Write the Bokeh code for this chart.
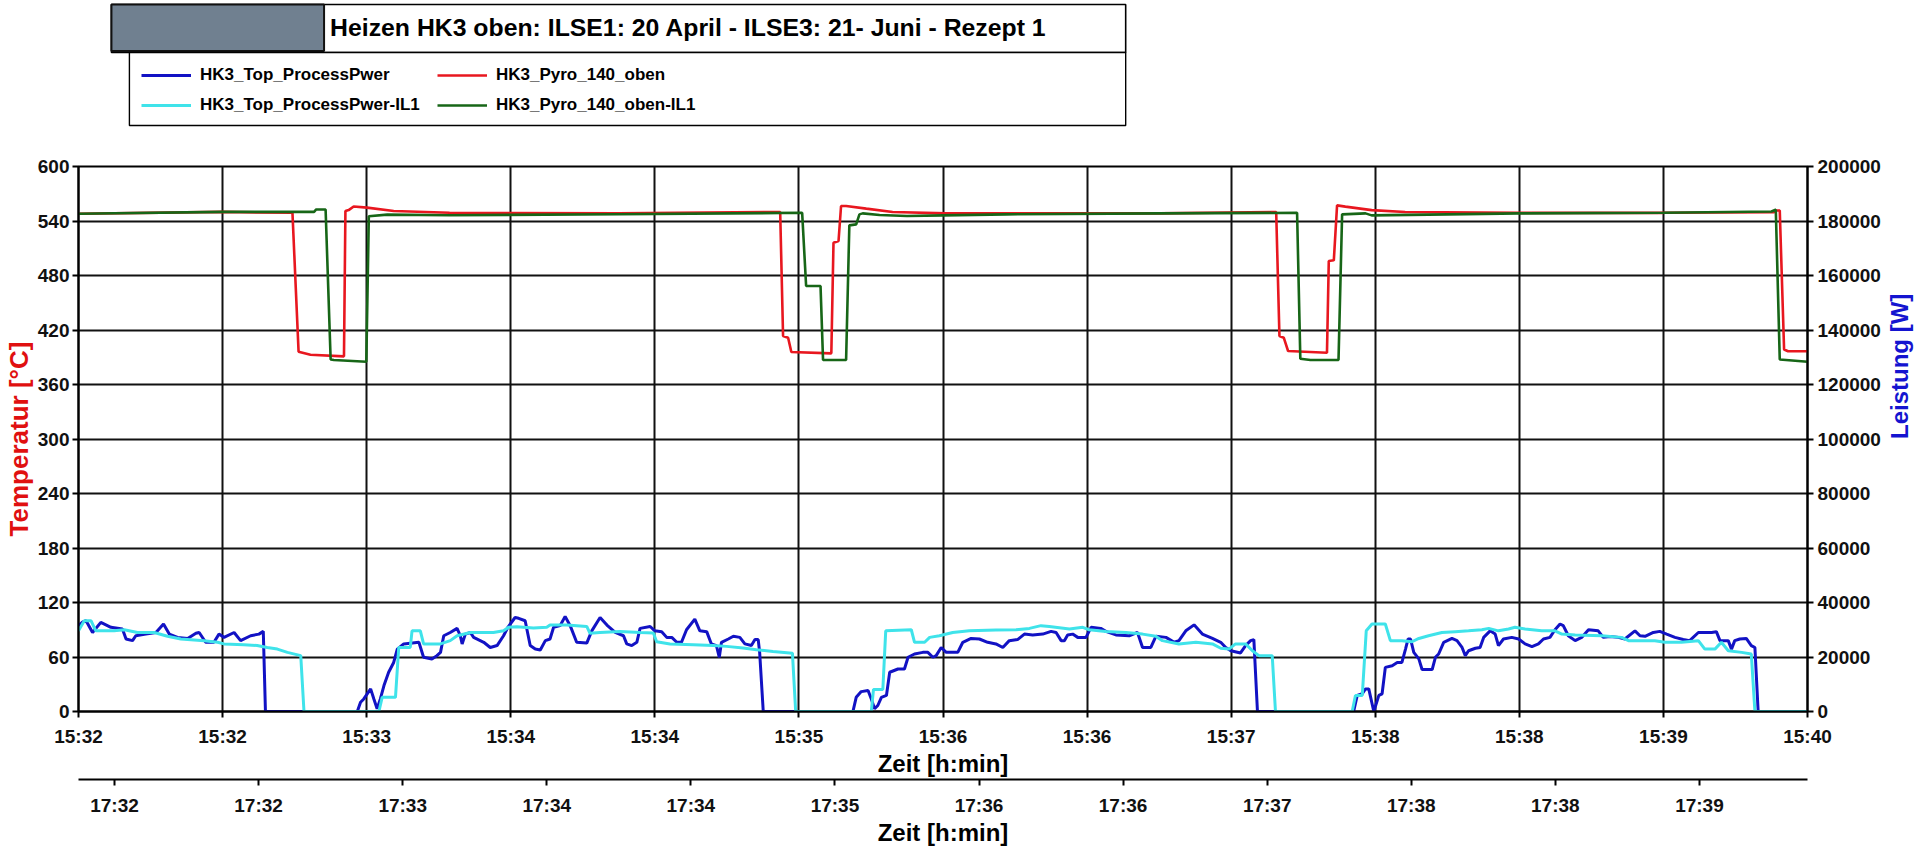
import math
from bokeh.plotting import figure
from bokeh.models import (Range1d, LinearAxis, FixedTicker, Legend, LegendItem,
                          NumeralTickFormatter, Label)
from bokeh.layouts import column
from bokeh.embed import file_html
from bokeh.resources import INLINE

FONT = "Liberation Sans"

# ---------------- texts ----------------
title_text = "Heizen HK3 oben:  ILSE1: 20 April - ILSE3: 21- Juni - Rezept 1"
series_names = ["HK3_Top_ProcessPwer", "HK3_Top_ProcessPwer-IL1",
                "HK3_Pyro_140_oben", "HK3_Pyro_140_oben-IL1"]
x_axis_title = "Zeit [h:min]"
y_left_title = "Temperatur [°C]"
y_right_title = "Leistung [W]"

# ---------------- ticks (x in seconds after 15:32:00) ----------------
x_ticks = [0, 40, 80, 120, 160, 200, 240, 280, 320, 360, 400, 440, 480]
x_tick_labels = ["15:32", "15:32", "15:33", "15:34", "15:34", "15:35", "15:36",
                 "15:36", "15:37", "15:38", "15:38", "15:39", "15:40"]
x2_ticks = [10, 50, 90, 130, 170, 210, 250, 290, 330, 370, 410, 450]
x2_tick_labels = ["17:32", "17:32", "17:33", "17:34", "17:34", "17:35",
                  "17:36", "17:36", "17:37", "17:38", "17:38", "17:39"]
temp_ticks = [0, 60, 120, 180, 240, 300, 360, 420, 480, 540, 600]
power_ticks = [0, 20000, 40000, 60000, 80000, 100000, 120000, 140000,
               160000, 180000, 200000]

# ---------------- series ----------------
# HK3_Top_ProcessPwer  [W]
pwr_t = [0, 1.2, 2.1, 3.9, 6.2, 9.0, 12.2, 13.2, 15.0, 15.9, 18.7, 21.5, 23.6, 25.2, 27.5,
         30.3, 32.6, 33.5, 35.3, 37.6, 39.0, 40.4, 43.2, 45.0, 47.8, 50.1, 51.3, 51.9,
         77.4, 78.3, 79.2, 81.1, 82.0, 82.9, 83.8, 84.8, 86.1, 87.5, 88.5, 90.3, 94.5,
         95.8, 98.1, 99.5, 100.5, 101.4, 103.2, 105.1, 106.0, 106.5, 107.4, 108.8, 109.7,
         112.5, 114.3, 116.2, 118.0, 119.2, 121.2, 122.2, 124.0, 125.4, 126.8, 128.2,
         129.6, 130.9, 131.9, 133.7, 135.1, 136.5, 138.3, 141.1, 142.5, 144.8, 146.7,
         149.0, 151.3, 152.2, 153.6, 155.0, 155.9, 158.7, 160.0, 161.9, 163.3, 164.7,
         166.1, 167.4, 168.8, 171.1, 172.5, 174.4, 175.7, 177.1, 177.9, 178.5, 180.4,
         181.8, 183.6, 185.0, 186.8, 187.8, 188.7, 189.1, 190.1, 215.0, 215.9, 217.3,
         219.2, 220.1, 221.0, 221.9, 222.9, 224.3, 225.2, 227.5, 229.3, 230.3, 232.1,
         234.4, 235.8, 237.2, 238.1, 239.5, 240.9, 244.1, 245.5, 247.8, 250.1, 252.4,
         254.7, 256.6, 258.4, 260.7, 262.6, 264.9, 267.7, 270.0, 271.4, 272.8, 273.7,
         274.6, 276.0, 277.4, 279.7, 281.1, 283.8, 285.2, 288.0, 291.7, 294.0, 295.4,
         297.7, 299.1, 301.9, 304.2, 305.5, 307.4, 309.7, 312.0, 314.8, 317.1, 318.5,
         319.9, 322.6, 324.0, 325.4, 326.3, 327.3, 354.0, 355.0, 356.4, 357.3, 358.2,
         359.6, 361.0, 361.9, 362.8, 364.7, 366.1, 367.4, 368.4, 369.1, 369.8, 370.7,
         372.1, 373.0, 375.8, 376.7, 377.6, 379.0, 381.3, 382.7, 384.1, 385.0, 385.9,
         387.8, 389.1, 390.1, 391.9, 393.3, 394.2, 395.6, 397.9, 399.8, 401.6, 403.5,
         405.3, 406.7, 408.5, 409.9, 411.3, 412.2, 413.6, 415.5, 417.3, 419.2, 421.9,
         423.3, 425.2, 427.5, 429.3, 432.1, 433.5, 434.9, 437.2, 439.0, 440.9, 443.2,
         445.5, 447.3, 449.7, 453.4, 454.7, 455.7, 458.0, 458.9, 459.8, 461.2, 463.0,
         464.4, 465.4, 466.3, 480.0]
pwr_w = [31500, 32900, 33300, 29000, 32700, 30900, 30300, 26600, 26000, 27800, 28400, 29000,
         32100, 28400, 27200, 26800, 28700, 29000, 25400, 25400, 28400, 27200, 29000, 26000,
         27800, 28400, 29400, 0,
         0, 3400, 4600, 8300, 4600, 1000, 4600, 9500, 14400, 18000, 22900, 24800, 25400,
         19900, 19300, 20500, 21700, 27800, 29000, 30500, 27800, 24800, 28400, 29000, 27200,
         25400, 23500, 24200, 27800, 30900, 34500, 34200, 33300, 24200, 22900, 22600,
         26000, 26600, 30900, 31500, 34900, 31500, 25400, 25100, 29600, 34500, 31700,
         29000, 27800, 24800, 24200, 25400, 30500, 31200, 29600, 29300, 27200, 27200,
         25400, 25400, 30000, 33900, 29600, 29300, 24800, 24200, 19900, 25400, 26600,
         27600, 27200, 24800, 24200, 26400, 26400, 21700, 0, 0, 5200, 7300,
         7700, 4600, 1000, 2200, 5200, 5900, 14400, 15600, 15600, 19900, 21100,
         21700, 21700, 19900, 20500, 23500, 21700, 21700, 25400, 26800, 26600, 25400,
         24800, 23500, 26000, 26400, 28400, 28100, 28400, 29400, 29000, 26000, 26000,
         28100, 28400, 27200, 27200, 30900, 30500, 29400, 28100, 27800, 29000, 23500,
         23500, 27600, 27200, 25400, 26000, 29600, 31800, 28400, 26800, 25400, 23500,
         22300, 21500, 24200, 26000, 26400, 0, 0, 5900, 6500, 8300, 8300,
         0, 5900, 6500, 16200, 16800, 18000, 18000, 22900, 26600, 26600, 21700,
         19300, 15400, 15400, 19900, 21100, 25400, 26800, 26000, 23500, 20500, 22300,
         23200, 23500, 27200, 29600, 28400, 24200, 26600, 27200, 26600, 24800, 23800,
         24800, 26600, 27200, 30000, 32100, 31500, 27800, 26000, 27200, 30000, 29600,
         27200, 27500, 27200, 26600, 29600, 27800, 27600, 29000, 29400, 28400, 27200,
         26400, 26000, 29000, 29000, 29300, 26000, 26000, 22900, 26000, 26600, 26800,
         24200, 23500, 0, 0]

# HK3_Top_ProcessPwer-IL1  [W]
pwr_il1_t = [0, 1.6, 3.5, 4.8, 9.9, 12.7, 16.4, 21.0, 24.7, 28.4, 34.9, 38.6, 40.4, 45.9,
             49.6, 52.4, 55.2, 58.0, 61.7, 62.6, 83.4, 84.3, 88.0, 88.9, 92.1, 92.6, 94.9,
             95.8, 100.5, 103.2, 105.1, 108.8, 115.2, 118.0, 119.4, 121.7, 126.3, 130.0,
             130.9, 135.6, 141.1, 142.0, 144.8, 150.3, 155.9, 159.6, 160.5, 164.2, 170.7,
             176.2, 179.9, 184.5, 188.2, 192.8, 198.2, 199.1, 220.1, 220.7, 223.3, 224.1,
             231.2, 232.1, 234.9, 236.3, 239.0, 242.7, 247.3, 254.7, 260.3, 264.0, 267.2,
             269.5, 275.1, 278.8, 280.6, 285.2, 290.8, 295.4, 299.1, 300.9, 305.5, 310.2,
             314.8, 317.1, 319.4, 321.2, 324.0, 325.9, 327.7, 331.4, 332.3, 353.6, 354.5,
             356.4, 357.5, 359.1, 362.8, 364.2, 367.4, 370.2, 372.1, 374.8, 378.5, 382.2,
             385.9, 389.6, 391.5, 394.2, 397.0, 398.8, 401.6, 406.2, 409.9, 411.8, 415.5,
             422.9, 428.4, 430.3, 437.6, 440.4, 445.0, 449.7, 451.5, 454.3, 456.1, 458.0,
             461.7, 464.4, 465.4, 480.0]
pwr_il1_w = [29600, 33300, 33300, 29600, 29600, 30000, 29000, 29000, 27600, 26600, 26000,
             25400, 24800, 24500, 24200, 23500, 22900, 21700, 20500, 0, 0, 5200, 5200,
             23500, 23500, 29600, 29600, 24800, 24800, 26000, 27800, 29000, 29000, 29600,
             30900, 31100, 30600, 30900, 31700, 31700, 31200, 28700, 29000, 29400, 29000,
             28800, 25600, 24800, 24500, 24200, 23900, 23300, 22700, 22000, 21400, 0, 0,
             8100, 8100, 29600, 30000, 25400, 25400, 27200, 27800, 29000, 29600, 29900,
             30000, 30500, 31500, 31200, 30300, 30900, 30000, 29400, 29000, 28400, 27600,
             26000, 24800, 25400, 24800, 23200, 22900, 24800, 24800, 22300, 20500, 20500,
             0, 0, 5900, 5900, 29600, 32100, 32100, 26000, 26000, 25600, 26800, 27800,
             29000, 29300, 29600, 30000, 30500, 29600, 30300, 30900, 30300, 29600, 29600,
             28400, 28100, 27800, 27200, 26000, 26000, 25400, 25400, 26000, 22900, 22900,
             25400, 22300, 21700, 21100, 0, 0]

# HK3_Pyro_140_oben  [°C]
pyro_t = [0, 40, 59.4, 61.1, 64.4, 73.7, 74.1, 75.0, 76.4, 80.1, 87.5, 103.0, 150.0, 194.8,
          195.6, 197.0, 197.9, 209.0, 209.6, 211.0, 211.7, 213.1, 218.7, 226.0, 241.0,
          300.0, 332.5, 333.4, 334.6, 335.8, 346.6, 347.1, 348.5, 349.4, 351.7, 359.0,
          368.3, 400.0, 440.0, 470.7, 471.4, 472.3, 473.5, 474.6, 480.0]
pyro_c = [548, 550, 549, 396, 392.7, 391, 551, 552, 556, 554.7, 551, 549, 548.5, 549.9,
          413.4, 411.5, 395.8, 394.3, 516, 518, 556.5, 556.5, 553.6, 549.9, 548.4,
          548.4, 549.9, 413.4, 411.5, 396.9, 395, 496, 496.7, 557.2, 555.8, 552,
          549.9, 549, 549, 549.7, 551.5, 551.5, 398.5, 396.6, 396.6]

# HK3_Pyro_140_oben-IL1  [°C]
pyro_il1_t = [0, 40, 65.4, 66.0, 68.6, 70.0, 70.9, 79.9, 80.6, 85.7, 103.0, 150.0, 200.9,
              202.0, 206.0, 206.7, 213.1, 214.0, 215.9, 216.8, 217.7, 222.4, 230.0, 240.0,
              257.5, 300.0, 338.3, 339.2, 342.0, 349.8, 350.8, 357.3, 359.0, 380.0, 400.0,
              440.0, 470.0, 471.0, 471.2, 472.3, 480.0]
pyro_il1_c = [548, 550, 550, 552.7, 552.7, 387.5, 387, 385, 545.3, 547, 546.3, 547.5, 549,
              468.4, 468.4, 387, 387, 535.2, 536.3, 547.3, 548.4, 546.6, 545.5, 546.2,
              547.3, 548.4, 549, 388.4, 387, 387, 547.3, 548.4, 546.2, 547.3, 548.4,
              549, 550.4, 552.2, 552.2, 387.5, 385]

# ---------------- styles ----------------
C_PWR = "#1212c4"
C_PWR_IL1 = "#3fe3ea"
C_PYRO = "#e8171f"
C_PYRO_IL1 = "#176617"
W_PWR = 3
W_TEMP = 2.6

W_TOTAL = 1929
H_HEAD = 140
H_MAIN = 708
B_LEFT, B_RIGHT = 78, 119          # borders shared by both stacked figures
FRAME_L, FRAME_R = B_LEFT, W_TOTAL - B_RIGHT

# ================= header (title box + legend) =================
head = figure(width=W_TOTAL, height=H_HEAD, x_range=Range1d(FRAME_L, FRAME_R),
              y_range=Range1d(H_HEAD, 0), output_backend="svg", toolbar_location=None,
              x_axis_type=None, y_axis_type=None, min_border=0,
              min_border_left=B_LEFT, min_border_right=B_RIGHT)
head.outline_line_color = None
head.xgrid.visible = False
head.ygrid.visible = False

# title box
head.quad(left=111, right=1127, top=4, bottom=52, fill_color="white",
          line_color="black", line_width=1.6)
head.quad(left=111, right=324, top=4, bottom=50.5, fill_color="#708090",
          line_color="#111111", line_width=2)
head.add_layout(Label(x=330, y=27, text=title_text, text_font=FONT,
                      text_font_size="24.8px", text_font_style="bold",
                      text_baseline="middle", text_align="left", text_color="black"))
# legend box
head.quad(left=129, right=1127, top=52, bottom=125, fill_color="white",
          line_color="black", line_width=1.4)

dummy = []
for col, w in [(C_PWR, W_PWR), (C_PWR_IL1, W_PWR), (C_PYRO, W_TEMP), (C_PYRO_IL1, W_TEMP)]:
    dummy.append(head.line(x=[-50, -40], y=[-50, -50], line_color=col, line_width=w))

legend = Legend(items=[LegendItem(label=n, renderers=[r]) for n, r in zip(series_names, dummy)],
                ncols=2, location=(141 - FRAME_L, 22), padding=4, spacing=4, margin=0,
                glyph_width=50, glyph_height=26, label_height=26, label_width=233,
                label_standoff=9, border_line_color=None, background_fill_alpha=0,
                label_text_font=FONT, label_text_font_size="17px",
                label_text_font_style="bold", label_text_color="black")
head.add_layout(legend)

# ================= main chart =================
p = figure(width=W_TOTAL, height=H_MAIN, x_range=Range1d(0, 480), y_range=Range1d(0, 600),
           output_backend="svg", toolbar_location=None,
           min_border_left=B_LEFT, min_border_right=B_RIGHT, min_border_top=26,
           min_border_bottom=136)
p.extra_y_ranges = {"power": Range1d(0, 200000)}
p.outline_line_color = "black"
p.outline_line_width = 2

GRID_C = "#111111"
p.xgrid.ticker = FixedTicker(ticks=x_ticks)
p.ygrid.ticker = FixedTicker(ticks=temp_ticks)
for g in (p.xgrid, p.ygrid):
    g.grid_line_color = GRID_C
    g.grid_line_width = 2


def style_axis(ax, label_size="19px"):
    ax.axis_line_color = "black"
    ax.axis_line_width = 2
    ax.major_tick_line_color = "black"
    ax.major_tick_line_width = 2
    ax.major_tick_out = 6
    ax.major_tick_in = 0
    ax.minor_tick_out = 0
    ax.minor_tick_in = 0
    ax.major_label_text_font = FONT
    ax.major_label_text_font_size = label_size
    ax.major_label_text_font_style = "bold"
    ax.major_label_text_color = "#111111"
    ax.axis_label_text_font = FONT
    ax.axis_label_text_font_size = "24px"
    ax.axis_label_text_font_style = "bold"


xa = p.xaxis[0]
style_axis(xa)
xa.ticker = FixedTicker(ticks=x_ticks)
xa.major_label_overrides = {t: s for t, s in zip(x_ticks, x_tick_labels)}
xa.axis_label = x_axis_title
xa.axis_label_text_color = "black"
xa.major_label_standoff = 8
xa.axis_label_standoff = 0

ya = p.yaxis[0]
style_axis(ya)
ya.ticker = FixedTicker(ticks=temp_ticks)
ya.axis_label = y_left_title
ya.axis_label_text_color = "#e01010"
ya.axis_label_text_font_size = "26px"
ya.major_label_standoff = 3
ya.axis_label_standoff = 1

yr = LinearAxis(y_range_name="power", ticker=FixedTicker(ticks=power_ticks),
                formatter=NumeralTickFormatter(format="0"), axis_label=y_right_title)
style_axis(yr)
yr.axis_label_text_color = "#1414d0"
yr.major_label_standoff = 4
yr.axis_label_standoff = 16
if "axis_label_orientation" in LinearAxis.properties():
    yr.axis_label_orientation = math.pi / 2
p.add_layout(yr, "right")

x2 = LinearAxis(ticker=FixedTicker(ticks=x2_ticks), axis_label=x_axis_title)
style_axis(x2)
x2.major_label_overrides = {t: s for t, s in zip(x2_ticks, x2_tick_labels)}
x2.axis_label_text_color = "black"
x2.major_label_standoff = 9
x2.axis_label_standoff = 0
p.add_layout(x2, "below")

# data lines
p.line(pwr_t, pwr_w, y_range_name="power", line_color=C_PWR, line_width=W_PWR)
p.line(pwr_il1_t, pwr_il1_w, y_range_name="power", line_color=C_PWR_IL1, line_width=W_PWR)
p.line(pyro_t, pyro_c, line_color=C_PYRO, line_width=W_TEMP)
p.line(pyro_il1_t, pyro_il1_c, line_color=C_PYRO_IL1, line_width=W_TEMP)

layout = column(head, p, spacing=0)
open("out.html", "w").write(file_html(layout, INLINE))
